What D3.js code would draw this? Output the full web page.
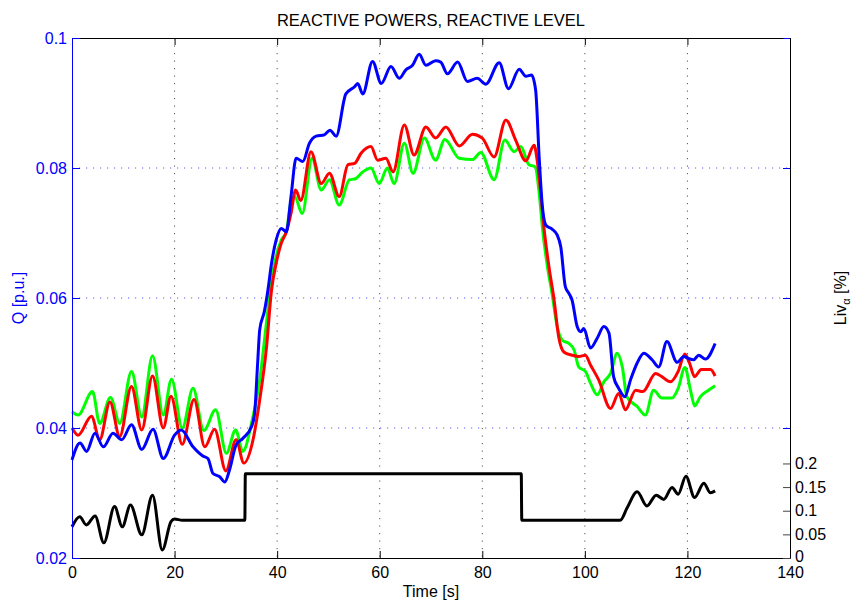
<!DOCTYPE html>
<html>
<head>
<meta charset="utf-8">
<script src="https://cdn.jsdelivr.net/npm/d3@7"></script>
<style>
  body { margin: 0; background: #fff; }
  svg { display: block; font-family: "Liberation Sans", Arial, Helvetica, sans-serif; }
</style>
</head>
<body>
<svg id="chart" width="855" height="601"></svg>
<script>
// Axis ticks
const timeTicks = [0, 20, 40, 60, 80, 100, 120, 140];
const qTicks = [0.02, 0.04, 0.06, 0.08, 0.1];
const livTicks = [0, 0.05, 0.1, 0.15, 0.2];

// Reactive power traces [time s, Q p.u.]
const qBlue = [
  [0,.0351],[1.56,.0377],[2.85,.0364],[4.47,.0392],[6.1,.0371],[8.0,.0392],[9.7,.0382],[11.6,.0405],
  [13.6,.0367],[15.8,.0398],[17.8,.0353],[20.0,.0389],[21.3,.0397],[23.6,.0371],[25.5,.0357],[26.5,.0353],
  [27.5,.0330],[28.8,.0325],[29.8,.0317],[30.7,.0335],[32.0,.0374],[33.3,.0384],[35.0,.0402],[35.6,.0422],
  [36.2,.0500],[36.6,.0551],[37.5,.0579],[38.2,.0612],[38.9,.0653],[39.8,.0689],[40.8,.0707],[41.8,.0702],
  [42.7,.0756],[43.7,.0815],[45.0,.0810],[46.3,.0838],[47.6,.0849],[49.2,.0851],[50.3,.0858],[51.5,.0849],
  [53.4,.0914],[55.1,.0925],[55.7,.0930],[56.7,.0914],[58.6,.0964],[60.3,.0930],[62.2,.0956],[63.8,.0938],
  [65.1,.0951],[66.4,.0958],[67.7,.0975],[69.0,.0958],[70.9,.0965],[71.9,.0963],[73.2,.0945],[75.2,.0963],
  [77.1,.0933],[79.0,.0938],[80.7,.0929],[83.3,.0962],[85.1,.0922],[87.2,.0952],[88.5,.0941],[89.6,.0943],
  [90.4,.0920],[91.1,.0815],[91.7,.0742],[92.4,.0712],[93.6,.0706],[94.6,.0697],[95.3,.0679],[96.2,.0617],
  [96.9,.0607],[97.5,.0597],[98.5,.0556],[99.2,.0548],[99.8,.0553],[101.1,.0523],[102.4,.0538],[103.7,.0556],
  [104.7,.0546],[105.6,.0479],[106.6,.0461],[107.8,.0448],[108.9,.0474],[110.2,.0500],[111.5,.0515],
  [113.1,.0505],[114.4,.0494],[116.0,.0533],[118.0,.0501],[119.3,.0510],[120.2,.0507],[121.2,.0505],
  [122.2,.0512],[123.5,.0506],[125.4,.0530]
];
const qRed = [
  [0,.0400],[1.2,.0389],[3.8,.0418],[5.4,.0382],[7.4,.0440],[9.3,.0387],[11.6,.0464],[13.6,.0397],
  [15.7,.0480],[17.8,.0400],[19.3,.0449],[21.5,.0375],[23.8,.0444],[25.9,.0371],[27.8,.0398],[30.0,.0334],
  [32.0,.0382],[33.5,.0346],[35.3,.0382],[36.6,.0443],[37.9,.0522],[38.9,.0612],[39.8,.0653],[40.8,.0684],
  [41.8,.0702],[42.7,.0730],[43.6,.0766],[44.6,.0750],[46.6,.0825],[48.6,.0776],[50.2,.0792],[52.1,.0756],
  [53.8,.0805],[55.1,.0807],[56.4,.0823],[58.3,.0833],[59.6,.0812],[61.2,.0815],[62.6,.0794],[64.8,.0866],
  [66.7,.0820],[69.0,.0863],[70.9,.0846],[72.9,.0863],[75.5,.0834],[78.1,.0852],[80.0,.0846],[82.3,.0817],
  [84.6,.0874],[86.5,.0843],[88.5,.0811],[90.1,.0835],[90.7,.0812],[91.4,.0761],[92.0,.0710],[93.0,.0648],
  [94.0,.0597],[94.9,.0540],[95.9,.0517],[97.5,.0512],[98.8,.0510],[100.1,.0512],[101.1,.0497],[102.7,.0474],
  [105.0,.0430],[106.6,.0453],[107.9,.0428],[109.9,.0458],[111.3,.0456],[113.8,.0484],[115.0,.0479],
  [116.7,.0471],[118.2,.0487],[119.5,.0514],[120.4,.0500],[121.4,.0479],[122.7,.0490],[124.5,.0490],[125.4,.0480]
];
const qGreen = [
  [0,.0425],[1.2,.0420],[4.0,.0456],[5.4,.0407],[7.5,.0447],[9.3,.0407],[11.6,.0487],[13.6,.0417],
  [15.7,.0511],[17.8,.0420],[19.4,.0475],[21.5,.0400],[23.6,.0461],[25.7,.0396],[28.0,.0428],[30.1,.0361],
  [31.9,.0397],[33.3,.0364],[35.0,.0407],[36.6,.0474],[37.9,.0561],[38.9,.0628],[39.8,.0664],[40.8,.0689],
  [41.8,.0702],[42.7,.0748],[43.4,.0756],[44.9,.0730],[46.8,.0815],[48.6,.0766],[50.2,.0782],[52.1,.0743],
  [54.1,.0782],[55.1,.0783],[56.7,.0794],[58.3,.0800],[59.9,.0776],[61.5,.0800],[62.8,.0776],[64.8,.0838],
  [66.5,.0792],[68.7,.0846],[70.9,.0812],[72.7,.0844],[75.5,.0815],[78.1,.0813],[79.7,.0824],[82.3,.0782],
  [84.4,.0843],[86.2,.0825],[87.5,.0833],[89.1,.0805],[90.3,.0802],[91.1,.0761],[91.7,.0710],[92.7,.0648],
  [93.6,.0607],[94.6,.0556],[95.6,.0535],[96.9,.0530],[97.9,.0520],[98.8,.0494],[100.1,.0487],[101.1,.0469],
  [102.4,.0451],[103.7,.0471],[105.0,.0484],[106.3,.0515],[107.3,.0494],[108.2,.0448],[110.2,.0433],
  [111.8,.0420],[113.4,.0458],[115.0,.0446],[117.0,.0446],[118.2,.0461],[119.5,.0493],[120.6,.0458],
  [121.4,.0434],[122.5,.0448],[124.1,.0458],[125.4,.0465]
];

// Reactive level [time s, Liv %] on the right axis
const livLevel = [
  [0,.066],[1.5,.087],[2.8,.070],[4.5,.089],[6.2,.032],[8.3,.109],[9.8,.066],[11.4,.112],[13.6,.049],
  [15.7,.133],[17.6,.017],[19.3,.077],[20.0,.0825],[21.5,.080],[33.7,.080],[33.8,.178],[87.6,.178],
  [87.7,.080],[106.9,.080],[108.2,.105],[110.2,.140],[112.1,.110],[113.9,.133],[115.4,.124],[117.0,.149],
  [118.2,.135],[119.7,.173],[121.4,.128],[123.2,.158],[124.5,.138],[125.4,.142]
];

const W = 855, H = 601;
const m = { left: 72, right: 65, top: 38, bottom: 43 };
const x0 = m.left, x1 = W - m.right, y0 = m.top, y1 = H - m.bottom;

const svg = d3.select("#chart");

const x = d3.scaleLinear().domain([0, 140]).range([x0, x1]);
const yQ = d3.scaleLinear().domain([0.02, 0.1]).range([y1, y0]);
const yL = d3.scaleLinear().domain([0, 1.1]).range([y1, y0]);

const fmt = v => String(+v.toFixed(3));

// Grid: vertical dotted lines at time ticks
svg.append("g").selectAll("line")
  .data(timeTicks.filter(t => t > 0 && t < 140))
  .join("line")
  .attr("x1", d => x(d)).attr("x2", d => x(d))
  .attr("y1", y0).attr("y2", y1)
  .attr("stroke", "#555").attr("stroke-width", 1)
  .attr("stroke-dasharray", "1.2,6.3");

// Grid: horizontal blue dotted lines at Q ticks
svg.append("g").selectAll("line")
  .data(qTicks.filter(v => v > 0.02 && v < 0.1))
  .join("line")
  .attr("x1", x0).attr("x2", x1)
  .attr("y1", d => yQ(d)).attr("y2", d => yQ(d))
  .attr("stroke", "#5c5cff").attr("stroke-width", 1)
  .attr("stroke-dasharray", "1.2,5.8");

// Q traces
const lineQ = d3.line().x(d => x(d[0])).y(d => yQ(d[1])).curve(d3.curveMonotoneX);
const series = [
  { data: qGreen, color: "#00ff00" },
  { data: qRed, color: "#ff0000" },
  { data: qBlue, color: "#0000ff" }
];
svg.append("g").selectAll("path")
  .data(series)
  .join("path")
  .attr("d", d => lineQ(d.data))
  .attr("fill", "none")
  .attr("stroke", d => d.color)
  .attr("stroke-width", 3)
  .attr("stroke-linejoin", "round");

// Reactive level trace
const lineL = d3.line().x(d => x(d[0])).y(d => yL(d[1])).curve(d3.curveMonotoneX);
svg.append("path")
  .attr("d", lineL(livLevel))
  .attr("fill", "none")
  .attr("stroke", "#000")
  .attr("stroke-width", 3)
  .attr("stroke-linejoin", "round");

// Axes
const axisFont = g => g.selectAll("text").style("font-size", "16px")
  .style("font-family", '"Liberation Sans", Arial, sans-serif');

// bottom
svg.append("g")
  .attr("transform", `translate(0,${y1})`)
  .call(d3.axisBottom(x).tickValues(timeTicks).tickFormat(d3.format("d"))
    .tickSizeInner(-7).tickSizeOuter(0).tickPadding(9))
  .call(axisFont)
  .call(g => g.selectAll("line,path").attr("stroke", "#000"))
  .call(g => g.selectAll("text").attr("fill", "#000"));

// top
svg.append("g")
  .attr("transform", `translate(0,${y0})`)
  .call(d3.axisTop(x).tickValues(timeTicks).tickFormat("")
    .tickSizeInner(-7).tickSizeOuter(0))
  .call(g => g.selectAll("line,path").attr("stroke", "#000"));

// right, blue Q ticks
svg.append("g")
  .attr("transform", `translate(${x1},0)`)
  .call(d3.axisRight(yQ).tickValues(qTicks).tickFormat("")
    .tickSizeInner(-7).tickSizeOuter(0))
  .call(g => g.select("path").remove())
  .call(g => g.selectAll("line").attr("stroke", "#0000ff"));

// right, reactive level
svg.append("g")
  .attr("transform", `translate(${x1},0)`)
  .call(d3.axisRight(yL).tickValues(livTicks).tickFormat(fmt)
    .tickSizeInner(-7).tickSizeOuter(0).tickPadding(5))
  .call(axisFont)
  .call(g => g.select("path").attr("stroke", "#000"))
  .call(g => g.selectAll("line").attr("stroke", "#444"))
  .call(g => g.selectAll("text").attr("fill", "#000"))
  // keep the zero label clear of the "140" time label below it
  .call(g => g.selectAll(".tick").filter(d => d === 0).select("text").attr("y", -2));

// left, Q
svg.append("g")
  .attr("transform", `translate(${x0},0)`)
  .call(d3.axisLeft(yQ).tickValues(qTicks).tickFormat(fmt)
    .tickSizeInner(-8).tickSizeOuter(0).tickPadding(5))
  .call(axisFont)
  .call(g => g.selectAll("line,path").attr("stroke", "#0000ff"))
  .call(g => g.selectAll("text").attr("fill", "#0000ff"));

// Title and axis labels
svg.append("text")
  .attr("x", (x0 + x1) / 2).attr("y", 26)
  .attr("text-anchor", "middle")
  .style("font-size", "16.5px").attr("fill", "#000")
  .text("REACTIVE POWERS, REACTIVE LEVEL");

svg.append("text")
  .attr("x", (x0 + x1) / 2).attr("y", 597)
  .attr("text-anchor", "middle")
  .style("font-size", "16px").attr("fill", "#000")
  .text("Time [s]");

svg.append("text")
  .attr("transform", `translate(24,${(y0 + y1) / 2}) rotate(-90)`)
  .attr("text-anchor", "middle")
  .style("font-size", "16px").attr("fill", "#0000ff")
  .text("Q [p.u.]");

const livLabel = svg.append("text")
  .attr("transform", `translate(846,${(y0 + y1) / 2}) rotate(-90)`)
  .attr("text-anchor", "middle")
  .style("font-size", "16px").attr("fill", "#000");
livLabel.append("tspan").text("Liv");
livLabel.append("tspan").attr("dy", 4).style("font-size", "11px").text("α");
livLabel.append("tspan").attr("dy", -4).text(" [%]");
</script>
</body>
</html>
